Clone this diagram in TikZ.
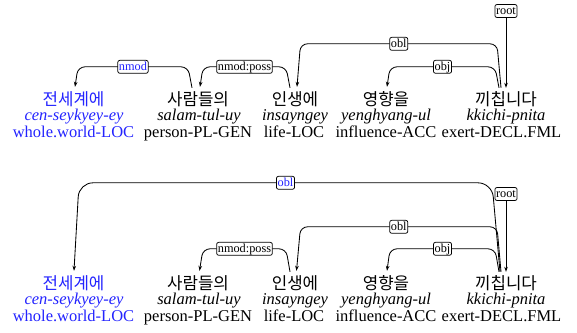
\documentclass[tikz,border=0pt]{standalone}
\usepackage{fontspec}
\setmainfont{Liberation Serif}
\newfontfamily\krfont{Noto Sans CJK KR}
\usetikzlibrary{arrows.meta,calc}
\definecolor{depblue}{RGB}{35,35,255}
\begin{document}
\begin{tikzpicture}[x=1pt,y=-1pt,
  kor/.style={font=\krfont\fontsize{16.8}{18}\selectfont, inner sep=0pt, anchor=base, text height=17pt},
  rom/.style={font=\itshape\fontsize{16.5}{18}\selectfont, inner sep=0pt, anchor=base},
  gls/.style={font=\fontsize{16.5}{18}\selectfont, inner sep=0pt, anchor=base},
  lab/.style={draw, rounded corners=2pt, fill=white, inner sep=1.2pt, font=\fontsize{12.3}{13}\selectfont, line width=0.75pt, text height=8.5pt, text depth=2pt},
  dep/.style={rounded corners=7pt, line width=0.85pt, -{Stealth[length=5pt,width=3.6pt]}},
  hl/.style={text=depblue}]
\useasboundingbox (0,0) rectangle (577,332);

% ---------- top diagram ----------
\node[kor,hl] (k1) at (73.5,105) {전세계에};
\node[kor] (k2) at (198,105) {사람들의};
\node[kor] (k3) at (295,105) {인생에};
\node[kor] (k4) at (386,105) {영향을};
\node[kor] (k5) at (506,105) {끼칩니다};
\node[rom,hl] (r1) at (74,120) {cen-seykyey-ey};
\node[rom] (r2) at (199,120) {salam-tul-uy};
\node[rom] (r3) at (295,120) {insayngey};
\node[rom] (r4) at (386,120) {yenghyang-ul};
\node[rom] (r5) at (506,120) {kkichi-pnita};
\node[gls,hl] (g1) at (73.5,137) {whole.world-LOC};
\node[gls] (g2) at (198,137) {person-PL-GEN};
\node[gls] (g3) at (294,137) {life-LOC};
\node[gls] (g4) at (386,137) {influence-ACC};
\node[gls] (g5) at (501.5,137) {exert-DECL.FML};

\draw[dep] ($(k2.north)+(-6,0)$) -- ($(k2.north)+(-10,-21)$)
  -- node[lab,hl]{nmod} ($(k1.north)+(4.5,-21)$) -- ($(k1.north)+(1.5,-1)$);
\draw[dep] ($(k3.north)+(-5,0)$) -- ($(k3.north)+(-9,-21)$)
  -- node[lab]{nmod:poss} ($(k2.north)+(5,-21)$) -- ($(k2.north)+(2,-1)$);
\draw[dep] ($(k5.north)+(-5,0)$) -- ($(k5.north)+(-9,-44)$)
  -- node[lab]{obl} ($(k3.north)+(5.5,-44)$) -- ($(k3.north)+(2,-1)$);
\draw[dep] ($(k5.north)+(-7,0)$) -- ($(k5.north)+(-11,-21)$)
  -- node[lab]{obj} ($(k4.north)+(4,-21)$) -- ($(k4.north)+(1,-1)$);
\node[lab] (root1) at (506,11) {root};
\draw[dep] (root1.south) -- (k5.north);

% ---------- bottom diagram ----------
\node[kor,hl] (K1) at (73.5,289) {전세계에};
\node[kor] (K2) at (198,289) {사람들의};
\node[kor] (K3) at (295,289) {인생에};
\node[kor] (K4) at (386,289) {영향을};
\node[kor] (K5) at (506,289) {끼칩니다};
\node[rom,hl] (R1) at (74,304) {cen-seykyey-ey};
\node[rom] (R2) at (199,304) {salam-tul-uy};
\node[rom] (R3) at (295,304) {insayngey};
\node[rom] (R4) at (386,304) {yenghyang-ul};
\node[rom] (R5) at (506,304) {kkichi-pnita};
\node[gls,hl] (G1) at (73.5,321) {whole.world-LOC};
\node[gls] (G2) at (198,321) {person-PL-GEN};
\node[gls] (G3) at (294,321) {life-LOC};
\node[gls] (G4) at (386,321) {influence-ACC};
\node[gls] (G5) at (501.5,321) {exert-DECL.FML};

\draw[dep,rounded corners=14pt] ($(K5.north)+(-6,0)$) -- ($(K5.north)+(-14,-89)$)
  -- node[lab,hl]{obl} ($(K1.north)+(5.5,-89)$) -- ($(K1.north)+(0.5,-1)$);
\draw[dep] ($(K5.north)+(-5,0)$) -- ($(K5.north)+(-9,-45)$)
  -- node[lab]{obl} ($(K3.north)+(5.5,-45)$) -- ($(K3.north)+(1.5,-1)$);
\draw[dep] ($(K5.north)+(-7,0)$) -- ($(K5.north)+(-11,-23)$)
  -- node[lab]{obj} ($(K4.north)+(4,-23)$) -- ($(K4.north)+(1,-1)$);
\draw[dep] ($(K3.north)+(-5,0)$) -- ($(K3.north)+(-9,-23)$)
  -- node[lab]{nmod:poss} ($(K2.north)+(5,-23)$) -- ($(K2.north)+(1.5,-1)$);
\node[lab] (root2) at (506,194) {root};
\draw[dep] (root2.south) -- (K5.north);
\end{tikzpicture}
\end{document}
